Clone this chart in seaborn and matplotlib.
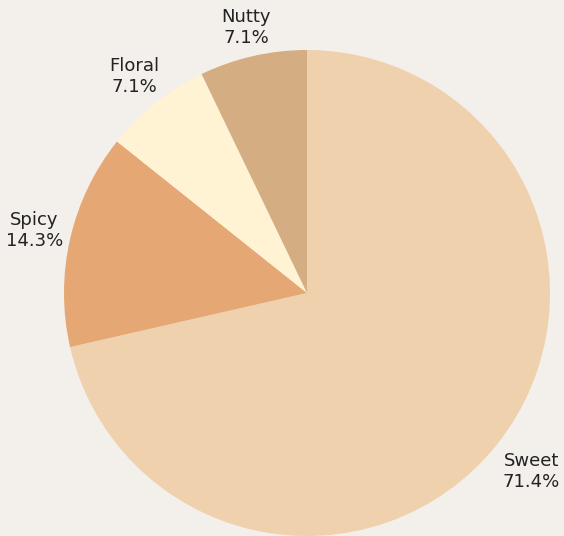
import numpy as np
import pandas as pd
import matplotlib
matplotlib.use("Agg")
import matplotlib.pyplot as plt
import seaborn as sns

flavors = ["Sweet", "Spicy", "Floral", "Nutty"]
counts = [10, 2, 1, 1]
colors = ["#EFD1AE", "#E5A874", "#FFF3D4", "#D4AD82"]
label_dist = [1.18, 1.15, 1.14, 1.12]

df = pd.DataFrame({"flavor": flavors, "count": counts})
df["pct"] = df["count"] / df["count"].sum() * 100

sns.set_theme(style="white")
plt.rcParams["font.family"] = ["DejaVu Sans"]

bg = "#F3EFEB"
fig = plt.figure(figsize=(5.64, 5.36), dpi=100, facecolor=bg)
ax = fig.add_axes([0, 0, 1, 1])
ax.set_facecolor(bg)

labels = [f"{f}\n{p:.1f}%" for f, p in zip(df["flavor"], df["pct"])]
wedges, texts = ax.pie(df["count"], labels=labels, colors=colors,
                       startangle=90, counterclock=False,
                       labeldistance=1.15, radius=1.0,
                       wedgeprops=dict(linewidth=0, edgecolor="none"),
                       textprops=dict(fontsize=13, color="#222222"))
for w, t, k in zip(wedges, texts, label_dist):
    ang = np.deg2rad((w.theta1 + w.theta2) / 2)
    t.set_position((k * w.r * np.cos(ang), k * w.r * np.sin(ang)))
    t.set_ha("center")
    t.set_va("center")
    t.set_multialignment("center")
    t.set_linespacing(1.2)

# place pie center at (307, 293) px with 243 px radius
ax.set_aspect("auto")
ax.set_xlim(-307 / 243, (564 - 307) / 243)
ax.set_ylim(-(536 - 293) / 243, 293 / 243)
ax.axis("off")

fig.savefig("out.png", dpi=100, facecolor=bg)
